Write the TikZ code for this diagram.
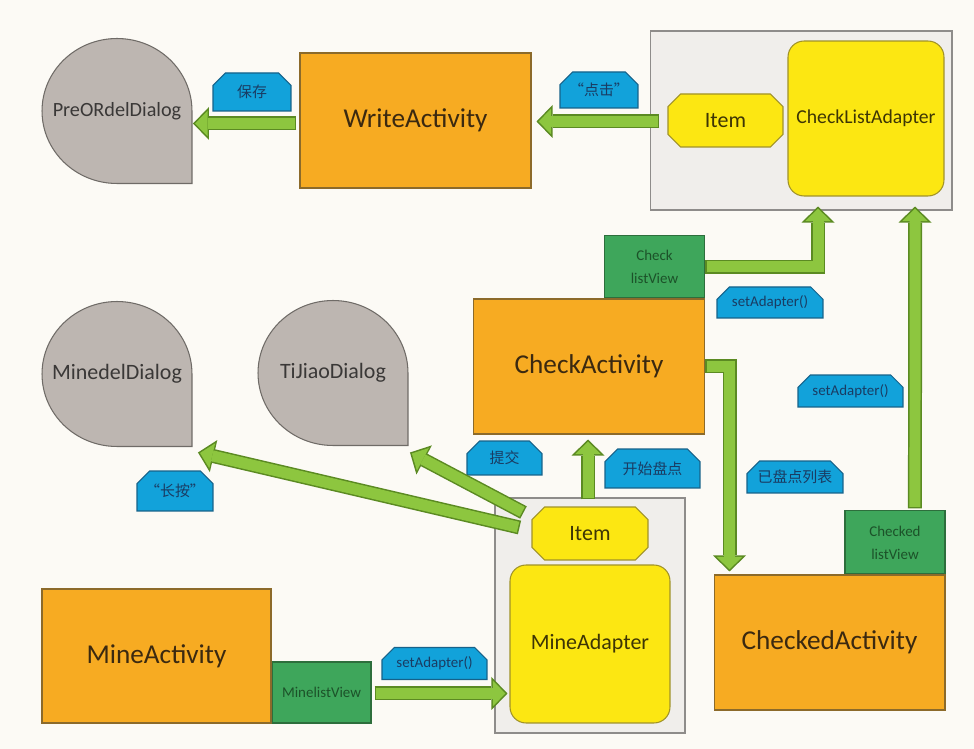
\documentclass[tikz,border=0pt]{standalone}
\usepackage{fontspec}
\setmainfont{Carlito}
\newfontfamily\cjk{Noto Sans CJK SC}
\usetikzlibrary{positioning,calc,shapes.misc,arrows.meta,backgrounds}

\definecolor{paper}{HTML}{FCFAF5}
\definecolor{actfill}{HTML}{F7AB22}
\definecolor{actline}{HTML}{8C6A2A}
\definecolor{acttext}{HTML}{3B2910}
\definecolor{dlgfill}{HTML}{BDB6B1}
\definecolor{dlgline}{HTML}{6F6B67}
\definecolor{dlgtext}{HTML}{3A3837}
\definecolor{adpfill}{HTML}{FCE712}
\definecolor{adpline}{HTML}{A09228}
\definecolor{adptext}{HTML}{3D3505}
\definecolor{boxfill}{HTML}{F0EEEB}
\definecolor{boxline}{HTML}{8E8C8A}
\definecolor{lvfill}{HTML}{3EA65B}
\definecolor{lvline}{HTML}{2D6E3C}
\definecolor{lvtext}{HTML}{1C5229}
\definecolor{tagfill}{HTML}{12A2DA}
\definecolor{tagline}{HTML}{16628A}
\definecolor{tagtext}{HTML}{1A3C63}
\definecolor{arrfill}{HTML}{8DC63F}
\definecolor{arrline}{HTML}{5B8A22}

% drop shaped dialog outline, drawn behind the node text
\newcommand\dropshape[1]{%
  \filldraw[fill=dlgfill, draw=dlgline, line width=0.6pt]
    (#1.south east) -- (#1.south)
    arc[start angle=270, end angle=0, x radius=1.5cm, y radius=1.45cm] -- cycle;}

\begin{document}
\begin{tikzpicture}[x=0.02cm, y=-0.02cm,
  act/.style={rectangle, draw=actline, fill=actfill, line width=0.6pt, text=acttext, font=\fontsize{15.5}{18}\selectfont, minimum width=4.62cm, minimum height=2.7cm, inner sep=0pt},
  dlg/.style={rectangle, minimum width=3cm, minimum height=2.9cm, inner sep=0pt, outer sep=0pt, text=dlgtext, font=\fontsize{12.5}{15}\selectfont},
  adp/.style={rectangle, rounded corners=0.32cm, draw=adpline, fill=adpfill, line width=0.6pt, text=adptext, font=\fontsize{12.5}{15}\selectfont},
  item/.style={chamfered rectangle, chamfered rectangle xsep=0.22cm, draw=adpline, fill=adpfill, line width=0.6pt, text=adptext, font=\fontsize{12.5}{15}\selectfont, minimum width=2.3cm, minimum height=1.06cm, inner sep=0pt},
  holder/.style={rectangle, draw=boxline, fill=boxfill, line width=0.6pt},
  lv/.style={rectangle, draw=lvline, fill=lvfill, line width=0.6pt, text=lvtext, font=\fontsize{8.5}{13}\selectfont, align=center, minimum width=2cm, minimum height=1.24cm, inner sep=0pt},
  tag/.style={chamfered rectangle, chamfered rectangle corners={north west,north east}, chamfered rectangle xsep=0.16cm, draw=tagline, fill=tagfill, line width=0.6pt, text=tagtext, font=\fontsize{8.5}{10}\selectfont, minimum width=2.1cm, minimum height=0.64cm, inner sep=0pt},
  barrow/.style={preaction={draw=arrline, line width=0.28cm, shorten >=0pt, shorten <=0pt, -{Triangle[length=0.32cm, width=0.66cm, line width=0pt]}},
    draw=arrfill, line width=0.22cm, shorten >=0.042cm, shorten <=0.03cm, -{Triangle[length=0.25cm, width=0.51cm, line width=0pt]}}
]
\begin{scope}[on background layer]
  \fill[paper] (0,0) rectangle (974,749);
\end{scope}

% top row
\node[dlg, font=\fontsize{11.5}{14}\selectfont] (preor) at (117,111) {PreORdelDialog};
\node[act] (write) at (415.5,120.5) {WriteActivity};
\node[holder, minimum width=6.04cm, minimum height=3.58cm] (chkbox) at (801,120.5) {};
\node[adp, minimum width=3.12cm, minimum height=3.1cm, font=\fontsize{11.2}{14}\selectfont] (cla) at (866,118.5) {CheckListAdapter};
\node[item] (item1) at (725.5,120.5) {Item};
\node[tag, minimum width=1.56cm, minimum height=0.76cm] (save) at (252,92) {\cjk 保存};
\node[tag, minimum width=1.56cm, minimum height=0.72cm] (click) at (599,90) {\cjk “点击”};

% middle
\node[act] (checkact) at (589,366.5) {CheckActivity};
\node[lv, anchor=south east] (checklv) at (checkact.north east) {Check\\listView};
\node[dlg] (minedel) at (117,374) {MinedelDialog};
\node[dlg] (tijiao) at (333,373) {TiJiaoDialog};
\node[tag, minimum width=2.12cm, minimum height=0.62cm] (set1) at (770,302.5) {setAdapter()};
\node[tag] (set2) at (850.5,391) {setAdapter()};
\node[tag, minimum width=1.92cm] (listed) at (795,477) {\cjk 已盘点列表};
\node[tag, minimum width=1.5cm, minimum height=0.68cm] (submit) at (504.5,458) {\cjk 提交};
\node[tag, minimum width=1.9cm, minimum height=0.78cm] (start) at (652.5,468.5) {\cjk 开始盘点};
\node[tag, minimum width=1.52cm, minimum height=0.8cm] (press) at (175,491) {\cjk “长按”};

% bottom row
\node[holder, minimum width=3.8cm, minimum height=4.7cm] (minebox) at (590,615.5) {};
\node[item, minimum width=2.32cm] (item2) at (590,533.5) {Item};
\node[adp, minimum width=3.2cm, minimum height=3.16cm] (mad) at (590,644) {MineAdapter};
\node[act, minimum width=4.58cm, minimum height=2.68cm] (mineact) at (156.5,656) {MineActivity};
\node[lv, anchor=south west, minimum width=1.98cm, minimum height=1.22cm] (minelv) at (mineact.south east) {MinelistView};
\node[tag] (set3) at (434.5,663.5) {setAdapter()};
\node[act] (checkedact) at (829.5,642.5) {CheckedActivity};
\node[lv, anchor=south east, minimum height=1.26cm] (checkedlv) at (checkedact.north east) {Checked\\listView};

\begin{scope}[on background layer]
  \dropshape{preor}
  \dropshape{minedel}
  \dropshape{tijiao}
\end{scope}

% arrows
\draw[barrow] ($(write.west)+(-3,3)$) -- ($(preor.east |- write.west)+(1,3)$);
\draw[barrow] ($(item1.west)+(-8,1)$) -- ($(write.east |- item1.west)+(5,1)$);
\draw[barrow] (checklv.east) -| ($(cla.south)+(-48,10)$);
\draw[barrow] ($(checkedlv.north)+(20,-2)$) -- ($(cla.south)+(49,10)$);
\draw[barrow] (checkact.east) -| ($(checkedact.north west)+(16,-3)$);
\draw[barrow] ($(minebox.north)+(-2,2)$) -- ($(checkact.south)+(-1,5)$);
\draw[barrow] ($(item2.west)+(-8,-21)$) -- ($(tijiao.south east)+(2,7)$);
\draw[barrow] ($(item2.west)+(-12,-6)$) -- ($(minedel.south east)+(6,6)$);
\draw[barrow] ($(minelv.east)+(3,1)$) -- ($(mad.west |- minelv.east)+(-2,1)$);
\end{tikzpicture}
\end{document}
